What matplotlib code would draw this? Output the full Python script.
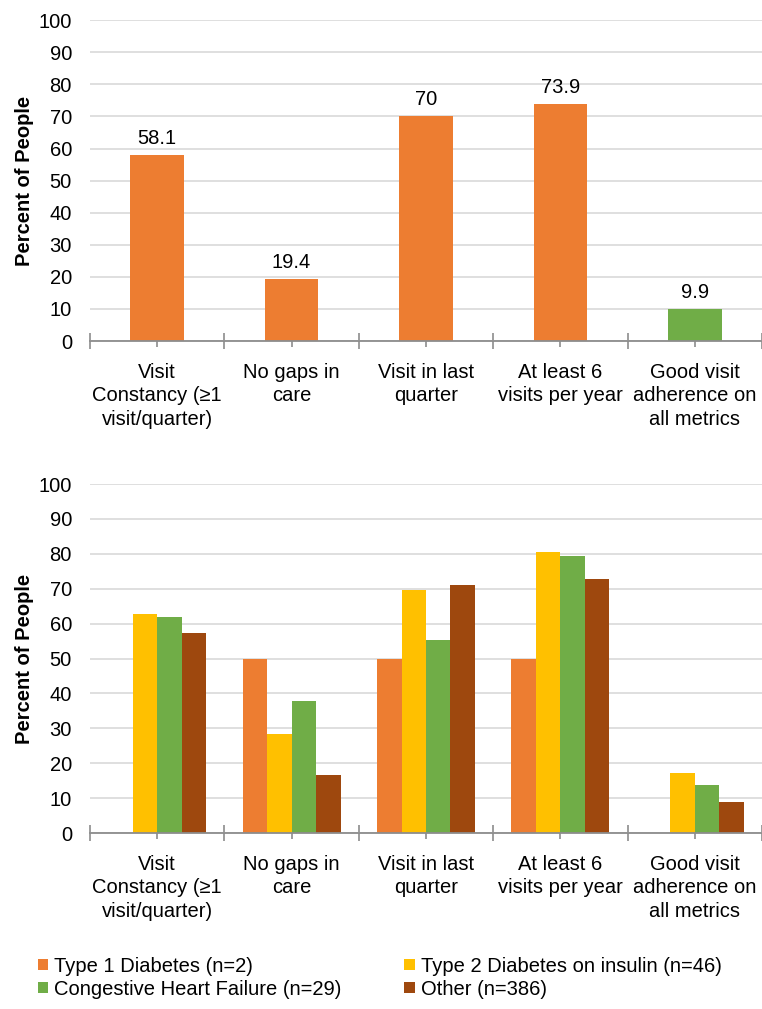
import numpy as np
import matplotlib.pyplot as plt
from matplotlib.ticker import FixedLocator, MultipleLocator

plt.rcParams['font.family'] = ['Liberation Sans', 'DejaVu Sans']

# categories and values
categories = ['Visit\nConstancy (\u22651\nvisit/quarter)', 'No gaps in\ncare',
              'Visit in last\nquarter', 'At least 6\nvisits per year',
              'Good visit\nadherence on\nall metrics']
overall = [58.1, 19.4, 70, 73.9, 9.9]
overall_colors = ['#ED7D31', '#ED7D31', '#ED7D31', '#ED7D31', '#70AD47']

groups = ['Type 1 Diabetes (n=2)', 'Type 2 Diabetes on insulin (n=46)',
          'Congestive Heart Failure (n=29)', 'Other (n=386)']
type1 = [0, 50, 50, 50, 0]
type2_insulin = [62.8, 28.3, 69.6, 80.4, 17.2]
chf = [61.8, 37.8, 55.2, 79.3, 13.7]
other = [57.3, 16.7, 71.2, 72.8, 8.8]
group_colors = ['#ED7D31', '#FFC000', '#70AD47', '#9E480E']

FS = 14.5


def style_axes(ax):
    n = len(categories)
    ax.set_xlim(-0.5, n - 0.5)
    ax.set_ylim(0, 100)
    ax.yaxis.set_major_locator(MultipleLocator(10))
    ax.grid(axis='y', color='#D9D9D9', linewidth=1.2)
    ax.set_axisbelow(True)
    for s in ['top', 'right', 'left']:
        ax.spines[s].set_visible(False)
    ax.spines['bottom'].set_color('#8C8C8C')
    ax.spines['bottom'].set_linewidth(1.3)
    ax.tick_params(axis='y', length=0, labelsize=FS, pad=13, labelcolor='#000000')
    # boundary ticks as major, labels on minor ticks at centres
    ax.xaxis.set_major_locator(FixedLocator(np.arange(-0.5, n, 1.0)))
    ax.xaxis.set_major_formatter(plt.NullFormatter())
    ax.xaxis.set_minor_locator(FixedLocator(np.arange(n)))
    ax.set_xticklabels(categories, minor=True, fontsize=FS, linespacing=1.3)
    ax.tick_params(axis='x', which='major', direction='inout', length=12,
                   color='#8C8C8C', width=1.2)
    ax.tick_params(axis='x', which='minor', direction='inout', length=9,
                   color='#8C8C8C', width=1.2, pad=11)
    ax.set_ylabel('Percent of People', fontsize=FS, fontweight='bold')
    ax.yaxis.set_label_coords(-0.0835, 0.5)


fig = plt.figure(figsize=(7.62, 10.09), dpi=100)

# overall adherence
ax1 = fig.add_axes([0.1181, 0.662, 0.8819, 0.318])
x = np.arange(len(categories))
ax1.bar(x, overall, width=0.4, color=overall_colors)
for xi, v in zip(x, overall):
    ax1.annotate(f'{v:g}', (xi, v), xytext=(0, 5), textcoords='offset points',
                 ha='center', va='bottom', fontsize=FS)
style_axes(ax1)

# by condition
ax2 = fig.add_axes([0.1181, 0.1744, 0.8819, 0.3459])
w = 0.182
series = [type1, type2_insulin, chf, other]
for i, (vals, col, lab) in enumerate(zip(series, group_colors, groups)):
    ax2.bar(x + (i - 1.5) * w, vals, width=w, color=col, label=lab)
style_axes(ax2)

# legend reads row by row
handles, labels = ax2.get_legend_handles_labels()
order = [0, 2, 1, 3]
fig.legend([handles[i] for i in order], [labels[i] for i in order],
           loc='center left', bbox_to_anchor=(0.0255, 0.031),
           ncol=2, frameon=False, fontsize=FS, handlelength=0.5,
           handleheight=0.5, handletextpad=0.3, columnspacing=3.15,
           labelspacing=0.2)

fig.savefig('out.png', dpi=100)
plt.close(fig)
